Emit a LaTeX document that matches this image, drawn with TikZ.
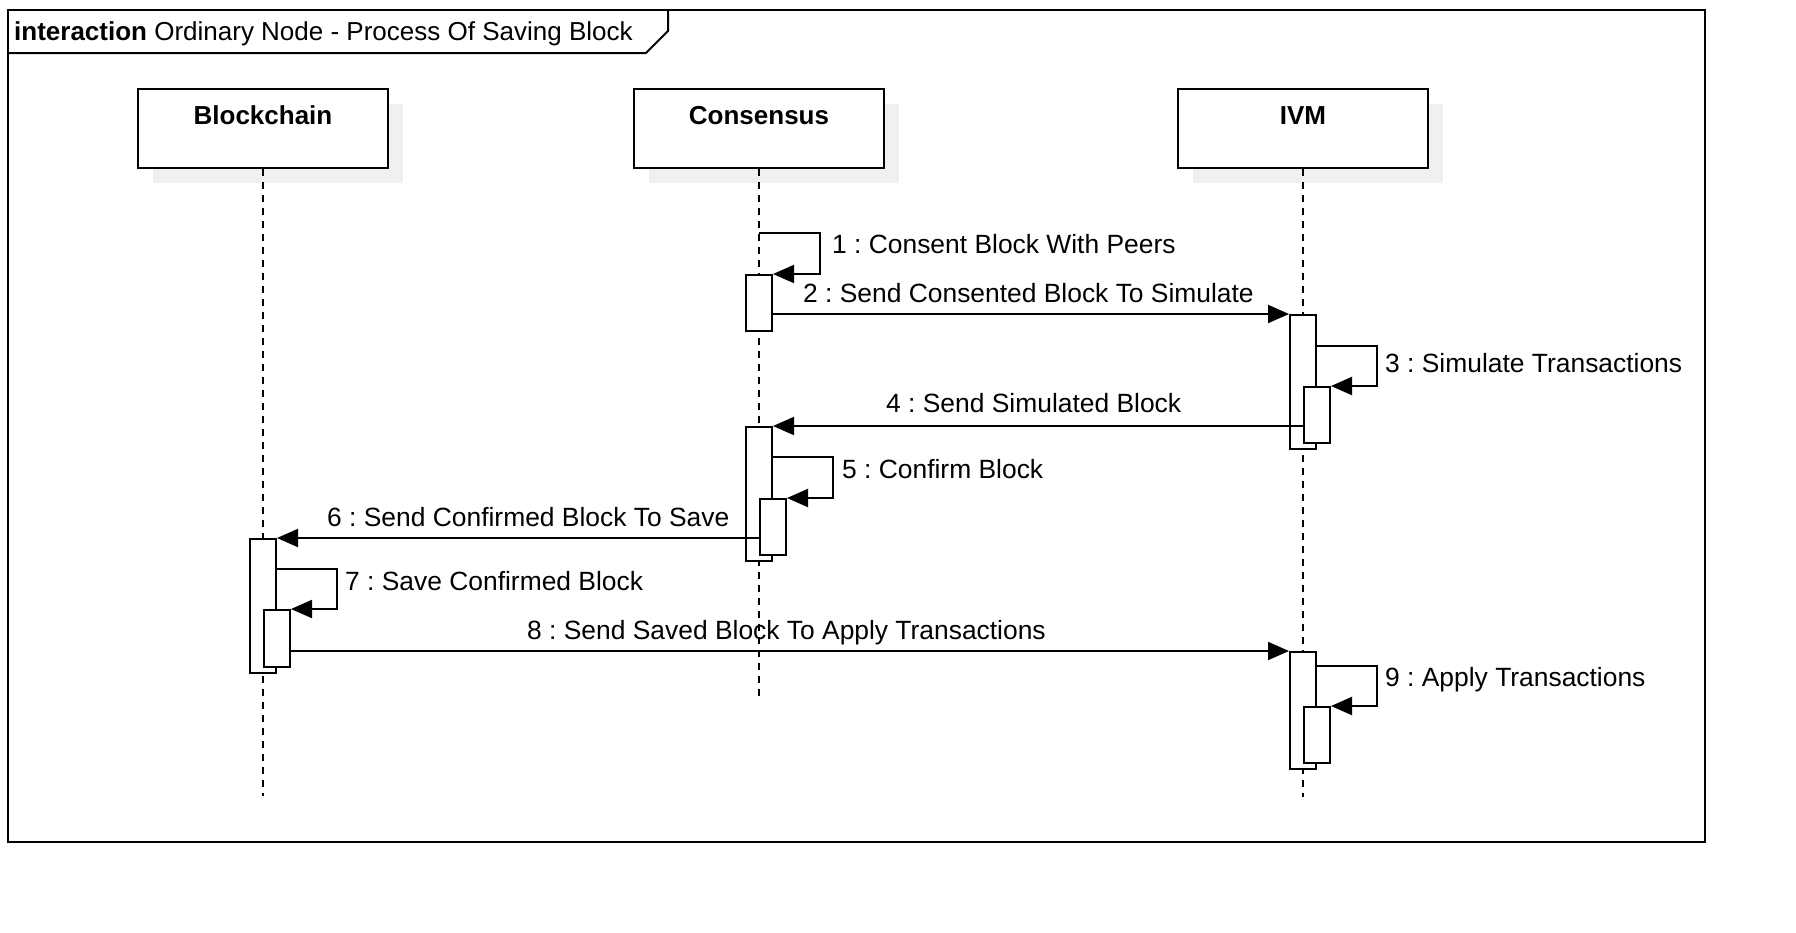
\documentclass[tikz,border=0pt]{standalone}
\usepackage{fontspec}
\setmainfont{Liberation Sans}
\usetikzlibrary{arrows.meta,shadows}
\begin{document}
\frenchspacing
\begin{tikzpicture}[x=1pt,y=-1pt,
  lbl/.style={font=\fontsize{26.4}{31}\selectfont\frenchspacing, inner sep=0pt, anchor=base west},
  ttl/.style={font=\fontsize{26}{31}\selectfont\frenchspacing, inner sep=0pt, anchor=base west},
  header/.style={draw=black, line width=2pt, fill=white, minimum width=250pt, minimum height=79pt, inner sep=0pt,
     font=\fontsize{26}{31}\selectfont\bfseries, text height=19pt, text depth=28pt,
     general shadow={fill=black!6, shadow xshift=15pt, shadow yshift=-15pt}},
  act/.style={draw=black, line width=2pt, fill=white, minimum width=26pt, inner sep=0pt, anchor=north},
  lifeline/.style={line width=1.5pt, dash pattern=on 7pt off 6pt},
  msg/.style={line width=2pt, -{Triangle[length=21pt,width=18pt]}},
  frameline/.style={line width=2pt}
]
\useasboundingbox (0,0) rectangle (1796,932);
% frame
\draw[frameline] (8,10) rectangle (1705,842);
\draw[frameline] (8,53) -- (646,53) -- (668,31) -- (668,10);
\node[ttl] (title) at (14,40) {\textbf{interaction} Ordinary Node - Process Of Saving Block};
% headers
\node[header] (bc) at (263,128.5) {Blockchain};
\node[header] (cons) at (759,128.5) {Consensus};
\node[header] (ivm) at (1303,128.5) {IVM};
% lifelines
\coordinate (bcEnd) at (263,796);
\coordinate (consEnd) at (759,700);
\coordinate (ivmEnd) at (1303,797);
\draw[lifeline] (bc) -- (bcEnd);
\draw[lifeline] (cons) -- (consEnd);
\draw[lifeline] (ivm) -- (ivmEnd);
% activations
\node[act, minimum height=56pt] (c1) at (759,274) {};
\node[act, minimum height=134pt] (i1) at (1303,314) {};
\node[act, minimum height=56pt] (iN1) at (1317,386) {};
\node[act, minimum height=134pt] (c2) at (759,426) {};
\node[act, minimum height=56pt] (cN2) at (773,498) {};
\node[act, minimum height=134pt] (b1) at (263,538) {};
\node[act, minimum height=57pt] (bN1) at (277,609) {};
\node[act, minimum height=117pt] (i2) at (1303,651) {};
\node[act, minimum height=56pt] (iN2) at (1317,706) {};
% messages
\coordinate (s1) at (759,233);
\draw[msg] (s1) -- ++(61,0) |- (c1.north east);
\draw[msg] (c1.east |- i1.north west) -- (i1.north west);
\draw[msg] ([yshift=-32pt]i1.north east) -- ++(60,0) |- (iN1.north east);
\draw[msg] (iN1.west |- c2.north east) -- (c2.north east);
\draw[msg] ([yshift=-31pt]c2.north east) -- ++(60,0) |- (cN2.north east);
\draw[msg] (cN2.west |- b1.north east) -- (b1.north east);
\draw[msg] ([yshift=-31pt]b1.north east) -- ++(60,0) |- (bN1.north east);
\draw[msg] (bN1.east |- i2.north west) -- (i2.north west);
\draw[msg] ([yshift=-15pt]i2.north east) -- ++(60,0) |- (iN2.north east);
% labels
\node[lbl] (l1) at (832,253) {1 : Consent Block With Peers};
\node[lbl] (l2) at (803,302) {2 : Send Consented Block To Simulate};
\node[lbl] (l3) at (1385,372) {3 : Simulate Transactions};
\node[lbl] (l4) at (886,412) {4 : Send Simulated Block};
\node[lbl] (l5) at (842,478) {5 : Confirm Block};
\node[lbl] (l6) at (327,526) {6 : Send Confirmed Block To Save};
\node[lbl] (l7) at (345,590) {7 : Save Confirmed Block};
\node[lbl] (l8) at (527,639) {8 : Send Saved Block To Apply Transactions};
\node[lbl] (l9) at (1385,686) {9 : Apply Transactions};
\end{tikzpicture}
\end{document}
